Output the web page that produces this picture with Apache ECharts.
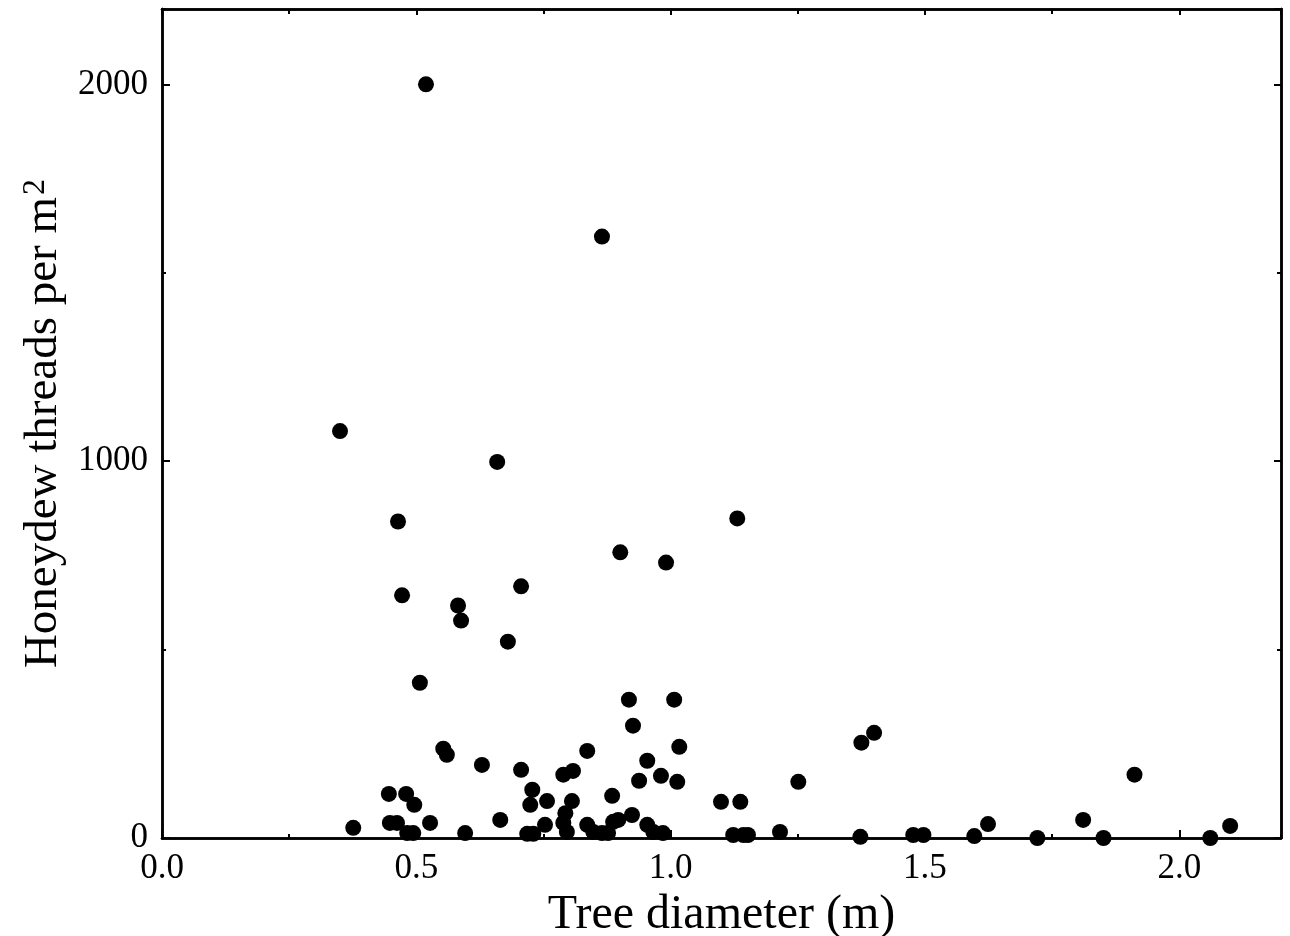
<!DOCTYPE html>
<html>
<head>
<meta charset="utf-8">
<script src="https://cdn.jsdelivr.net/npm/echarts@6/dist/echarts.min.js"></script>
<style>
html,body{margin:0;padding:0;background:#fff;}
#chart{width:1290px;height:936px;}
</style>
</head>
<body>
<div id="chart"></div>
<script>
// Tree diameter (m)
const diameter = [
  0.519, 0.865, 0.350, 0.659, 0.464, 1.131, 0.901, 0.991, 0.472, 0.706,
  0.582, 0.588, 0.680, 0.507, 0.918, 1.007, 0.926, 0.553, 0.560, 1.017,
  0.836, 1.375, 1.400, 0.954, 0.629, 0.706, 0.789, 0.808, 0.938, 0.981,
  1.013, 1.251, 1.912, 0.446, 0.480, 0.496, 0.728, 0.724, 0.757, 0.806,
  0.885, 1.099, 1.137, 0.376, 0.448, 0.462, 0.527, 0.482, 0.494, 0.596,
  0.665, 0.718, 0.730, 0.753, 0.793, 0.789, 0.796, 0.836, 0.848, 0.865,
  0.877, 0.887, 0.897, 0.924, 0.954, 0.966, 0.985, 1.123, 1.143, 1.152,
  1.215, 1.373, 1.477, 1.497, 1.597, 1.624, 1.721, 1.811, 1.851, 2.061,
  2.100
];
// Honeydew threads per m^2
const threads = [
  2000, 1596, 1080, 998, 840, 848, 758, 731, 644, 668,
  617, 577, 521, 412, 367, 367, 298, 237, 221, 242,
  231, 253, 279, 205, 194, 181, 168, 178, 152, 165,
  149, 149, 168, 117, 117, 88, 128, 88, 98, 98,
  112, 96, 96, 27, 40, 40, 40, 13, 13, 13,
  48, 11, 11, 35, 66, 40, 16, 35, 16, 13,
  13, 43, 48, 61, 35, 16, 13, 8, 8, 8,
  16, 3, 8, 8, 5, 37, 0, 48, 0, 0,
  32
];
const xTicks = { min: 0, max: 2.2, major: 0.5, minor: 0.25 };
const yTicks = { min: 0, max: 2200, major: 1000, minor: 500 };

const FONT = 'Liberation Serif';
const points = diameter.map((d, i) => [d, threads[i]]);

function frameAxis(pos, range, step, tickLen, withLabels, extra) {
  return Object.assign({
    type: 'value', position: pos, min: range.min, max: range.max, interval: step,
    axisLine: { show: true, onZero: false, lineStyle: { color: '#000', width: 2.5 } },
    axisTick: { show: true, inside: true, length: tickLen, lineStyle: { color: '#000', width: 2 } },
    axisLabel: { show: withLabels },
    splitLine: { show: false }
  }, extra || {});
}

const chart = echarts.init(document.getElementById('chart'), null, { renderer: 'canvas' });
chart.setOption({
  backgroundColor: '#fff',
  animation: false,
  grid: { left: 162, right: 9, top: 9, bottom: 98, containLabel: false, outerBoundsMode: 'none' },
  xAxis: [
    frameAxis('bottom', xTicks, xTicks.major, 8, true, {
      name: 'Tree diameter (m)', nameLocation: 'middle', nameGap: 43,
      nameTextStyle: { fontFamily: FONT, fontSize: 48, color: '#000' },
      axisLabel: { show: true, margin: 13, fontFamily: FONT, fontSize: 35, color: '#000',
        showMaxLabel: false, formatter: v => v.toFixed(1) }
    }),
    frameAxis('bottom', xTicks, xTicks.minor, 4, false),
    frameAxis('top', xTicks, xTicks.major, 6, false),
    frameAxis('top', xTicks, xTicks.minor, 5, false)
  ],
  yAxis: [
    frameAxis('left', yTicks, yTicks.major, 8, true, {
      name: '{a|Honeydew threads per m}{s|2}', nameLocation: 'middle', nameGap: 95,
      nameTextStyle: { fontFamily: FONT, fontSize: 47, color: '#000',
        rich: {
          a: { fontFamily: FONT, fontSize: 47, color: '#000' },
          s: { fontFamily: FONT, fontSize: 32, color: '#000', verticalAlign: 'top', padding: [0, 0, 0, 2] }
        } },
      axisLabel: { show: true, margin: 14, fontFamily: FONT, fontSize: 35, color: '#000',
        showMaxLabel: false, formatter: v => String(v) }
    }),
    frameAxis('left', yTicks, yTicks.minor, 4, false),
    frameAxis('right', yTicks, yTicks.major, 7, false),
    frameAxis('right', yTicks, yTicks.minor, 4, false)
  ],
  series: [{
    type: 'scatter',
    xAxisIndex: 0, yAxisIndex: 0,
    data: points,
    symbol: 'circle',
    symbolSize: 16,
    itemStyle: { color: '#000', opacity: 1 },
    clip: false
  }]
});
</script>
</body>
</html>
